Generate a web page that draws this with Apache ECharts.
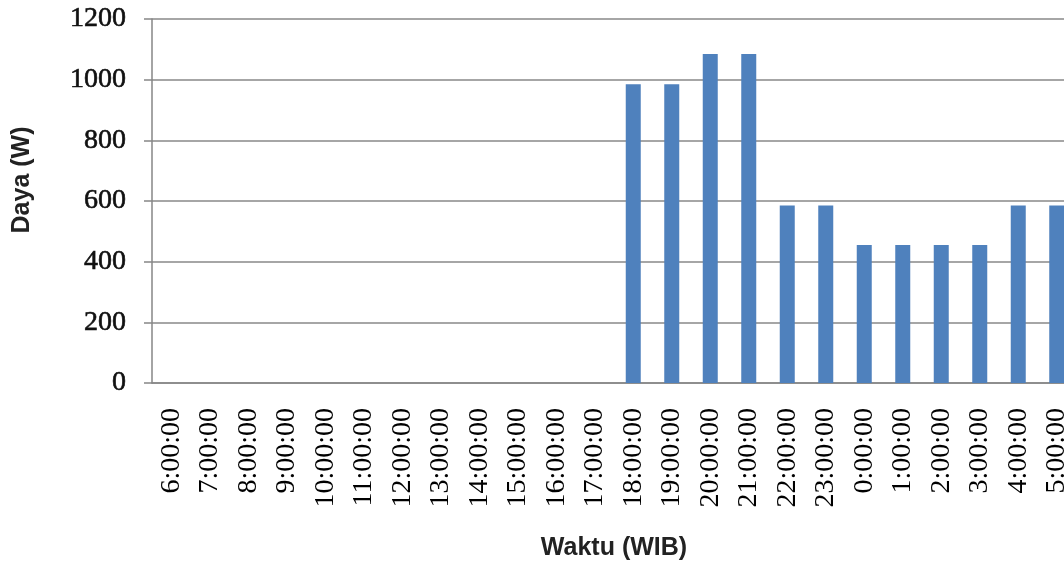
<!DOCTYPE html>
<html>
<head>
<meta charset="utf-8">
<script src="https://cdn.jsdelivr.net/npm/echarts@6/dist/echarts.min.js"></script>
<style>
  html, body { margin: 0; padding: 0; background: #fff; }
  #main { width: 1064px; height: 565px; }
</style>
</head>
<body>
<div id="main"></div>
<script>
// jam pengukuran (WIB)
const waktu = [
  '6:00:00', '7:00:00', '8:00:00', '9:00:00', '10:00:00', '11:00:00',
  '12:00:00', '13:00:00', '14:00:00', '15:00:00', '16:00:00', '17:00:00',
  '18:00:00', '19:00:00', '20:00:00', '21:00:00', '22:00:00', '23:00:00',
  '0:00:00', '1:00:00', '2:00:00', '3:00:00', '4:00:00', '5:00:00'
];
// daya beban per jam (W)
const daya = [
  0, 0, 0, 0, 0, 0,
  0, 0, 0, 0, 0, 0,
  985, 985, 1085, 1085, 585, 585,
  455, 455, 455, 455, 585, 585
];

const chart = echarts.init(document.getElementById('main'));

chart.setOption({
  animation: false,
  grid: { left: 152, top: 19, width: 924, height: 364, outerBoundsMode: 'none', containLabel: false },
  xAxis: {
    type: 'category',
    data: waktu,
    name: 'Waktu (WIB)',
    nameLocation: 'middle',
    nameGap: 153,
    nameTextStyle: { fontFamily: 'Liberation Sans', fontWeight: 'bold', fontSize: 25, color: '#222' },
    axisLine: { lineStyle: { color: '#868686', width: 1.5 } },
    axisTick: { length: 7, lineStyle: { color: '#868686', width: 1.5 } },
    axisLabel: {
      rotate: 90,
      margin: 25,
      interval: 0,
      fontFamily: 'Liberation Serif',
      fontSize: 28,
      color: '#000'
    }
  },
  yAxis: {
    type: 'value',
    min: 0,
    max: 1200,
    interval: 200,
    name: 'Daya (W)',
    nameLocation: 'middle',
    nameGap: 117,
    nameTextStyle: {
      fontFamily: 'Liberation Sans', fontWeight: 'bold', fontSize: 25, color: '#222',
      padding: [0, 0, 0, 42]
    },
    axisLine: { show: true, lineStyle: { color: '#868686', width: 1.5 } },
    axisTick: { show: true, length: 8, lineStyle: { color: '#868686', width: 1.5 } },
    axisLabel: {
      margin: 26,
      formatter: v => String(v),
      fontFamily: 'Liberation Serif',
      fontSize: 28,
      color: '#111',
      textBorderColor: '#111',
      textBorderWidth: 0.6
    },
    splitLine: { lineStyle: { color: '#888', width: 1.5 } }
  },
  series: [{
    type: 'bar',
    data: daya,
    barWidth: 15,
    itemStyle: { color: '#4F81BD' }
  }]
});
</script>
</body>
</html>
